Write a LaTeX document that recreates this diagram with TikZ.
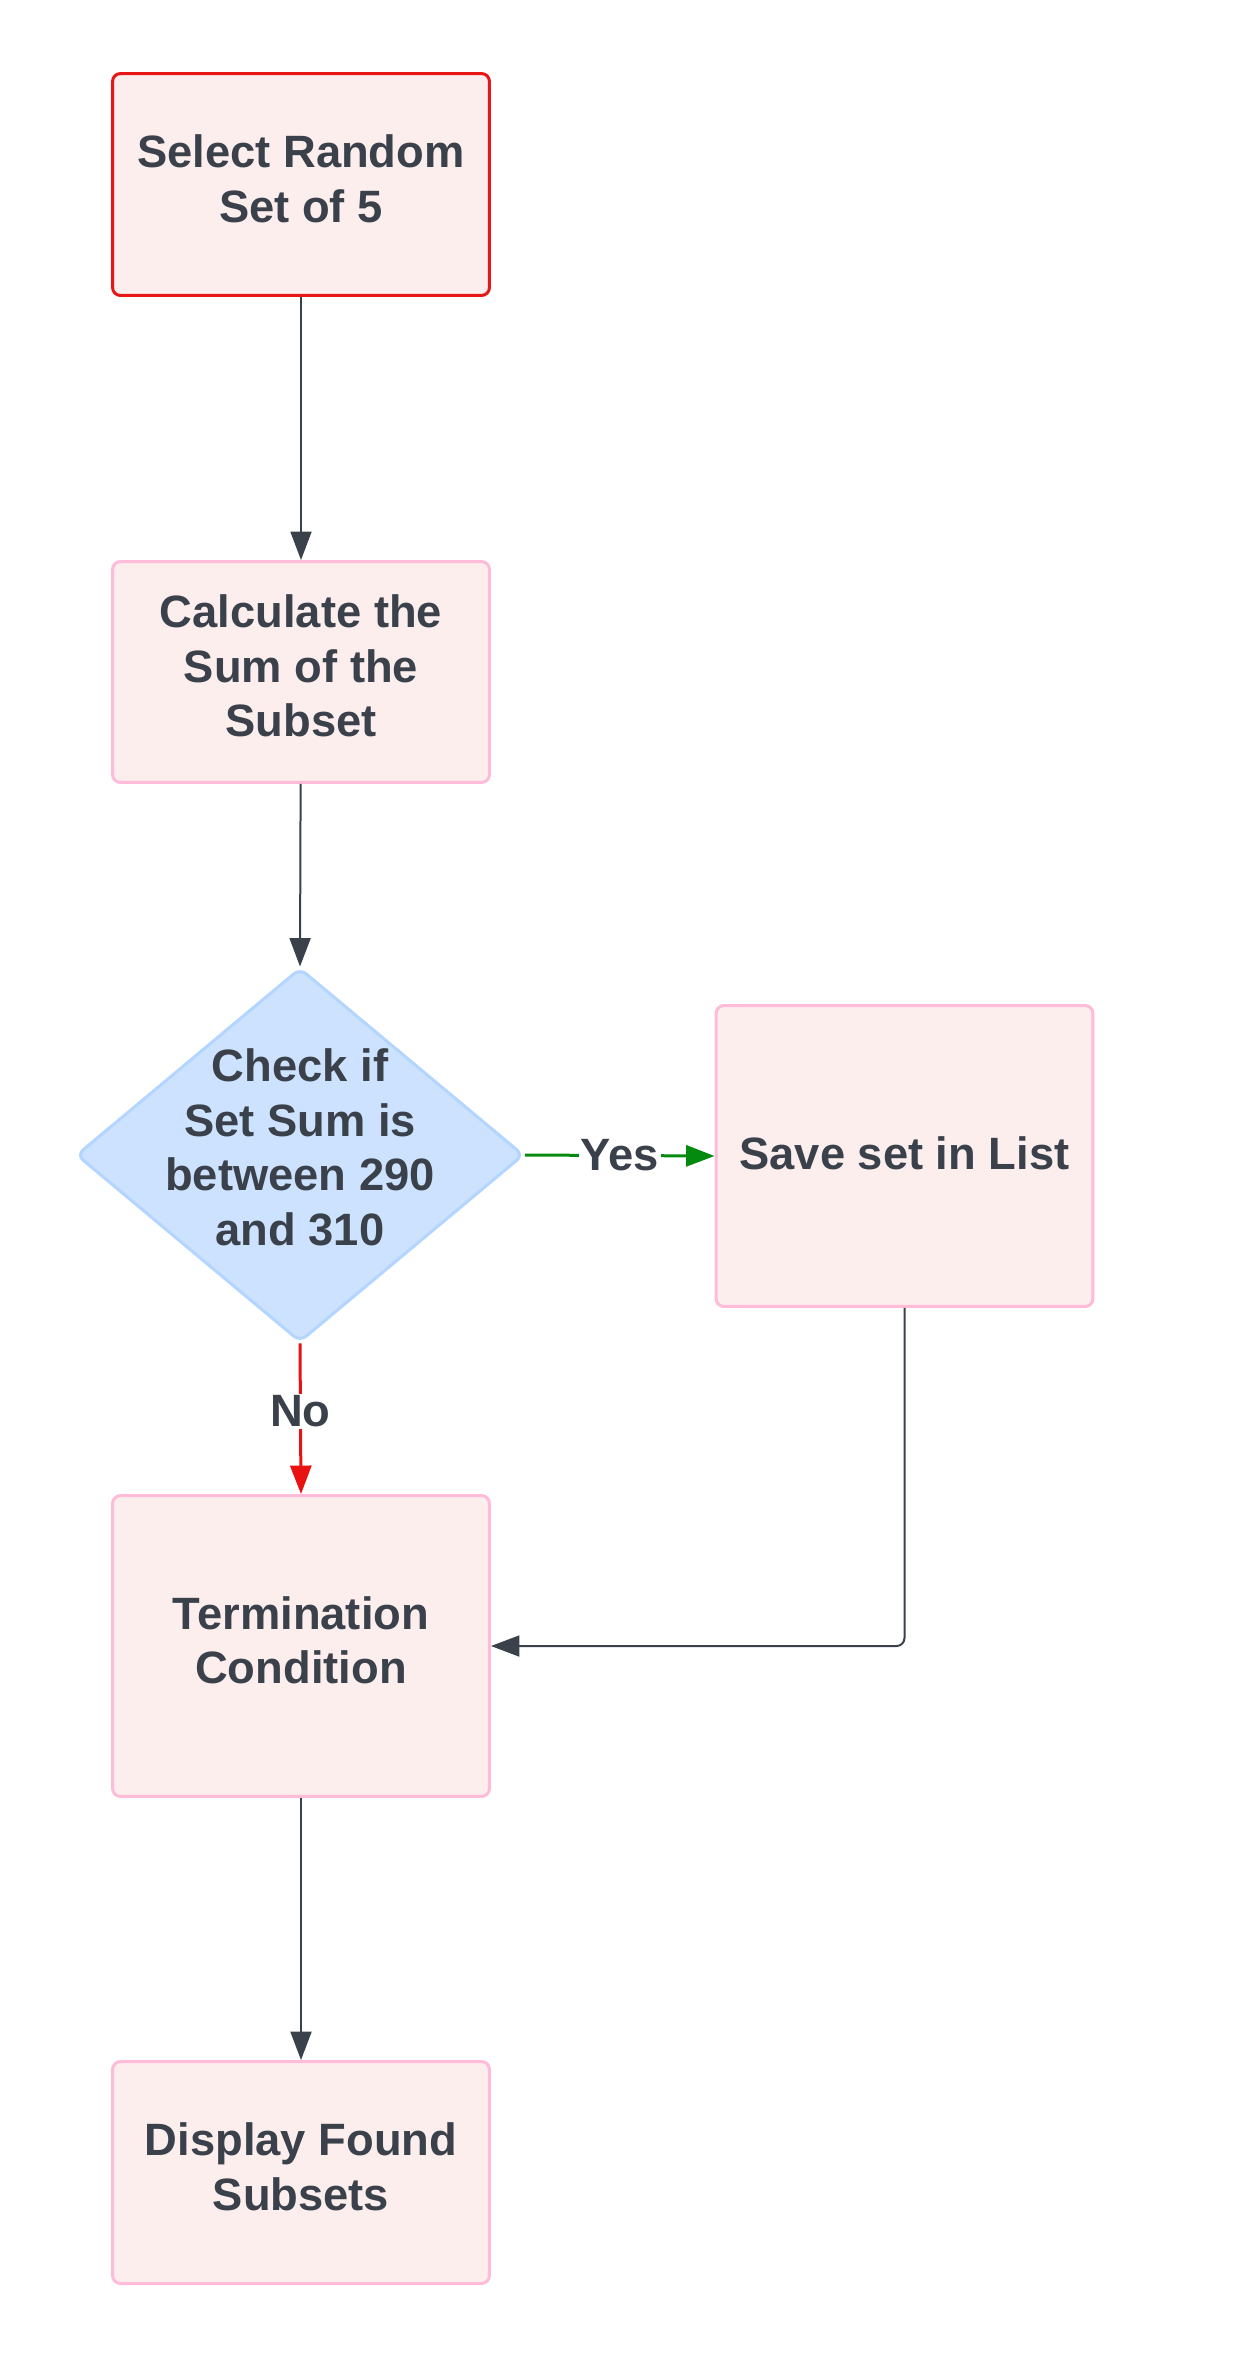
\documentclass[tikz,border=0pt]{standalone}
\usepackage{fontspec}
\setmainfont{Liberation Sans}
\usetikzlibrary{shapes.geometric,arrows.meta}
\definecolor{ink}{HTML}{3A414A}
\definecolor{boxfill}{HTML}{FDEEEE}
\definecolor{boxline}{HTML}{FFBCD9}
\definecolor{startline}{HTML}{E51717}
\definecolor{dfill}{HTML}{CCE2FF}
\definecolor{dline}{HTML}{B3D5FF}
\definecolor{yesgreen}{HTML}{038A0F}
\definecolor{nored}{HTML}{EA1111}
\newcommand{\flowfont}{\fontsize{25.8}{31}\selectfont\bfseries}
\tikzset{
  procbox/.style={draw=boxline, fill=boxfill, line width=0.06cm, rounded corners=0.16cm,
    minimum width=7.54cm, text=ink, font=\flowfont, align=center, inner sep=0pt, text depth=0.24cm},
  decbox/.style={diamond, draw=dline, fill=dfill, line width=0.06cm, rounded corners=0.16cm,
    inner sep=0pt, minimum width=8.95cm, minimum height=7.48cm},
  flow/.style={draw=ink, line width=0.04cm, -{Triangle[length=0.57cm,width=0.42cm]}},
  flowlabel/.style={fill=white, text=ink, font=\flowfont, inner sep=1pt}
}
\begin{document}
\begin{tikzpicture}[x=0.02cm,y=-0.02cm]
\useasboundingbox (0,0) rectangle (1252,2360);
\node[procbox, draw=startline, minimum height=4.44cm](select) at (301,184.5) {Select Random\\Set of 5};
\node[procbox, minimum height=4.42cm](calc) at (301,672) {Calculate the\\Sum of the\\Subset};
\node[decbox, label={[text=ink, font=\flowfont, align=center, yshift=0.15cm]center:Check if\\Set Sum is\\between 290\\and 310}](check) at (300,1155) {};
\node[procbox, minimum height=6.02cm, text depth=0.12cm](save) at (904.5,1156) {Save set in List};
\node[procbox, minimum height=6.02cm](term) at (301,1646) {Termination\\Condition};
\node[procbox, minimum height=4.44cm](disp) at (301,2172.5) {Display Found\\Subsets};
%
\draw[flow](select) -- (calc);
\draw[flow](calc) -- (check.north);
\draw[flow, draw=yesgreen, line width=0.06cm](check.east) -- (save.west) node[flowlabel, pos=0.5]{Yes};
\draw[flow, draw=nored, line width=0.06cm](check.south) -- (term.north) node[flowlabel, pos=0.45]{No};
\draw[flow, rounded corners=0.16cm](save.south) |- (term.east);
\draw[flow](term) -- (disp);
\end{tikzpicture}
\end{document}
